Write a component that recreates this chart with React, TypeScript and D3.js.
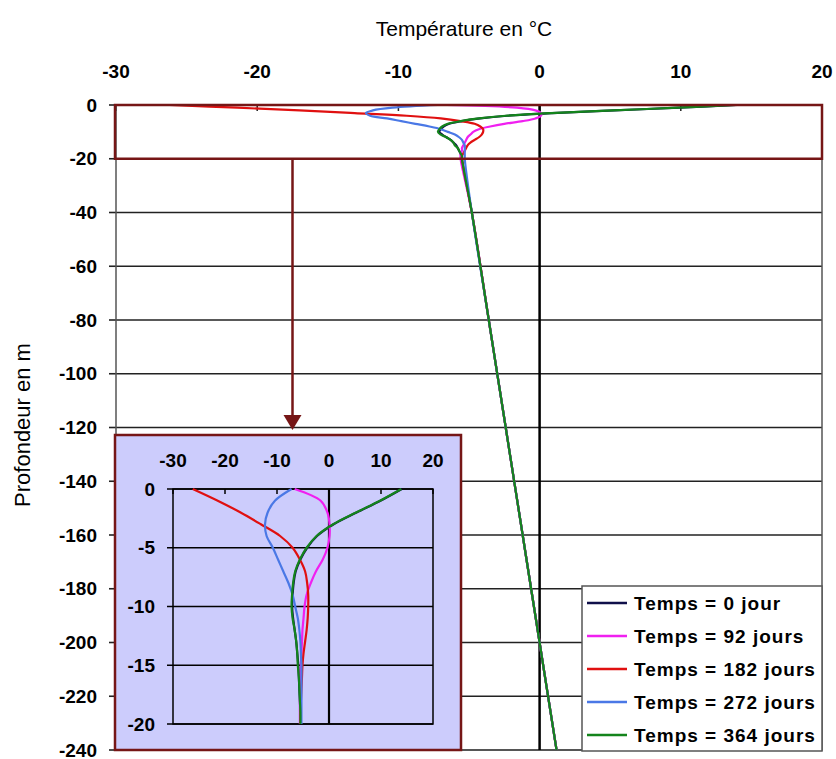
import React from 'react';
import * as d3 from 'd3';

// Depth (m) at which temperatures were read
const depths = [0, -1, -2, -3, -4, -5, -6, -7, -8, -9, -10, -11, -12, -13, -14, -15, -16, -17, -18, -19, -20, -40, -80, -120, -160, -200, -240];

// Temperatures (°C) per series
const temps0 = [14.0, 9.9, 5.3, 0.9, -2.3, -4.2, -5.5, -6.4, -6.8, -7.0, -7.1, -6.9, -6.6, -6.3, -6.1, -5.9, -5.8, -5.7, -5.6, -5.5, -5.5, -4.8, -3.6, -2.4, -1.2, 0.0, 1.2];
const temps92 = [-6.6, -1.6, -0.3, 0.1, 0.1, -0.3, -1.2, -2.5, -3.5, -4.3, -4.7, -4.9, -5.1, -5.2, -5.3, -5.4, -5.5, -5.5, -5.6, -5.6, -5.6, -4.8, -3.6, -2.4, -1.2, 0.0, 1.2];
const temps182 = [-26.2, -21.4, -17.0, -13.1, -9.4, -7.0, -5.6, -4.6, -4.2, -4.0, -4.0, -4.1, -4.3, -4.6, -4.9, -5.1, -5.2, -5.3, -5.4, -5.5, -5.5, -4.8, -3.6, -2.4, -1.2, 0.0, 1.2];
const temps272 = [-7.2, -10.4, -11.8, -12.3, -12.0, -10.8, -9.8, -8.8, -7.8, -7.0, -6.5, -6.0, -5.7, -5.5, -5.4, -5.3, -5.3, -5.3, -5.3, -5.3, -5.3, -4.8, -3.6, -2.4, -1.2, 0.0, 1.2];
const temps364 = [13.9, 9.8, 5.2, 0.8, -2.4, -4.3, -5.6, -6.5, -6.9, -7.1, -7.2, -7.0, -6.6, -6.3, -6.1, -6.0, -5.8, -5.7, -5.6, -5.5, -5.5, -4.8, -3.6, -2.4, -1.2, 0.0, 1.2];

const seriesNames = ['Temps = 0 jour', 'Temps = 92 jours', 'Temps = 182 jours', 'Temps = 272 jours', 'Temps = 364 jours'];
const seriesValues = [temps0, temps92, temps182, temps272, temps364];
const seriesColors = ['#10104a', '#f020f0', '#e01010', '#4a78e6', '#14841c'];

const xTicks = [-30, -20, -10, 0, 10, 20];
const yTicksMain = [0, -20, -40, -60, -80, -100, -120, -140, -160, -180, -200, -220, -240];
const yTicksInset = [0, -5, -10, -15, -20];
const zoomDepth = -20;
const arrowTemp = -17.5;

const FONT = 'Liberation Sans, Arial, sans-serif';
const BOX = '#761616';

export default function App() {
  const W = 836, H = 759;
  const x = d3.scaleLinear().domain([-30, 20]).range([116, 822]);
  const y = d3.scaleLinear().domain([0, -240]).range([105, 750]);
  const xi = d3.scaleLinear().domain([-30, 20]).range([173, 433]);
  const yi = d3.scaleLinear().domain([0, -20]).range([489, 724]);

  const mainLine = d3.line<number>()
    .x((v) => x(v))
    .y((_, i) => y(depths[i]))
    .curve(d3.curveCatmullRom.alpha(0.5));

  const insetIdx = depths.map((d, i) => i).filter((i) => depths[i] >= zoomDepth);
  const makeInset = (vals: number[]) => d3.line<number>()
    .x((i) => xi(vals[i]))
    .y((i) => yi(depths[i]))
    .curve(d3.curveCatmullRom.alpha(0.5))(insetIdx);

  const [x0, x1] = x.range();
  const [y0, y1] = y.range();
  const [ix0, ix1] = xi.range();
  const [iy0, iy1] = yi.range();

  const panel = { left: 115, top: 435, right: 461, bottom: 750 };
  const legend = { left: 582, top: 586, width: 240, height: 165, row: 33 };

  const ax = x(arrowTemp);

  return (
    <svg width={W} height={H} style={{ position: 'absolute', left: 0, top: 0, background: '#fff' }}>
      <defs>
        <clipPath id="plotClip">
          <rect x={x0} y={y0} width={x1 - x0} height={y1 - y0} />
        </clipPath>
      </defs>
      <rect x={0} y={0} width={W} height={H} fill="#fff" />

      <text x={464} y={28} fontFamily={FONT} fontSize={21} textAnchor="middle" dominantBaseline="central" fill="#000">Température en °C</text>
      <text transform={`translate(22,425) rotate(-90)`} fontFamily={FONT} fontSize={22} textAnchor="middle" dominantBaseline="central" fill="#000">Profondeur en m</text>

      {xTicks.map((t) => (
        <text key={'xt' + t} x={x(t)} y={71} fontFamily={FONT} fontSize={19} fontWeight="bold" textAnchor="middle" dominantBaseline="central" fill="#000">{t}</text>
      ))}
      {yTicksMain.map((t) => (
        <g key={'yt' + t}>
          <line x1={x0} x2={x1} y1={y(t)} y2={y(t)} stroke="#222" strokeWidth={1.6} />
          <line x1={x0 - 7} x2={x0} y1={y(t)} y2={y(t)} stroke="#222" strokeWidth={1.6} />
          <text x={97} y={y(t)} fontFamily={FONT} fontSize={19} fontWeight="bold" textAnchor="end" dominantBaseline="central" fill="#000">{t}</text>
        </g>
      ))}
      {xTicks.map((t) => (
        <line key={'xtk' + t} x1={x(t)} x2={x(t)} y1={y0} y2={y0 + 6} stroke="#222" strokeWidth={1.5} />
      ))}
      <rect x={x0} y={y0} width={x1 - x0} height={y1 - y0} fill="none" stroke="#555" strokeWidth={1.5} />
      <line x1={x(0)} x2={x(0)} y1={y0} y2={y1} stroke="#000" strokeWidth={2.5} />

      <g clipPath="url(#plotClip)">
        {seriesValues.map((vals, k) => (
          <path key={'m' + k} d={mainLine(vals) || ''} fill="none" stroke={seriesColors[k]} strokeWidth={2.2} />
        ))}
      </g>

      <rect x={x0 - 1} y={y(0)} width={x1 - x0 + 1} height={y(zoomDepth) - y(0)} fill="none" stroke={BOX} strokeWidth={2.5} />
      <line x1={ax} x2={ax} y1={y(zoomDepth)} y2={panel.top - 18} stroke={BOX} strokeWidth={2.5} />
      <path d={`M${ax - 9},${panel.top - 20} L${ax + 9},${panel.top - 20} L${ax},${panel.top - 5} Z`} fill={BOX} />

      <rect x={panel.left} y={panel.top} width={panel.right - panel.left} height={panel.bottom - panel.top} fill="#ccccfc" stroke={BOX} strokeWidth={2.5} />
      {yTicksInset.map((t) => (
        <g key={'iy' + t}>
          <line x1={ix0 - 6} x2={ix1} y1={yi(t)} y2={yi(t)} stroke="#000" strokeWidth={1.5} />
          <text x={155} y={yi(t)} fontFamily={FONT} fontSize={19} fontWeight="bold" textAnchor="end" dominantBaseline="central" fill="#000">{t}</text>
        </g>
      ))}
      {xTicks.map((t) => (
        <g key={'ix' + t}>
          <line x1={xi(t)} x2={xi(t)} y1={iy0} y2={iy0 + 5} stroke="#000" strokeWidth={1.5} />
          <text x={xi(t)} y={460} fontFamily={FONT} fontSize={19} fontWeight="bold" textAnchor="middle" dominantBaseline="central" fill="#000">{t}</text>
        </g>
      ))}
      <rect x={ix0} y={iy0} width={ix1 - ix0} height={iy1 - iy0} fill="none" stroke="#000" strokeWidth={1.5} />
      <line x1={xi(0)} x2={xi(0)} y1={iy0} y2={iy1} stroke="#000" strokeWidth={2.2} />
      {seriesValues.map((vals, k) => (
        <path key={'i' + k} d={makeInset(vals) || ''} fill="none" stroke={seriesColors[k]} strokeWidth={2.2} />
      ))}

      <rect x={legend.left} y={legend.top} width={legend.width} height={legend.height} fill="#fff" stroke="#555" strokeWidth={1.5} />
      {seriesNames.map((n, k) => {
        const cy = legend.top + 17 + k * legend.row;
        return (
          <g key={'lg' + k}>
            <line x1={legend.left + 5} x2={legend.left + 45} y1={cy} y2={cy} stroke={seriesColors[k]} strokeWidth={2.5} />
            <text x={legend.left + 52} y={cy} fontFamily={FONT} fontSize={19} fontWeight="bold" letterSpacing={1} dominantBaseline="central" fill="#000">{n}</text>
          </g>
        );
      })}
    </svg>
  );
}
